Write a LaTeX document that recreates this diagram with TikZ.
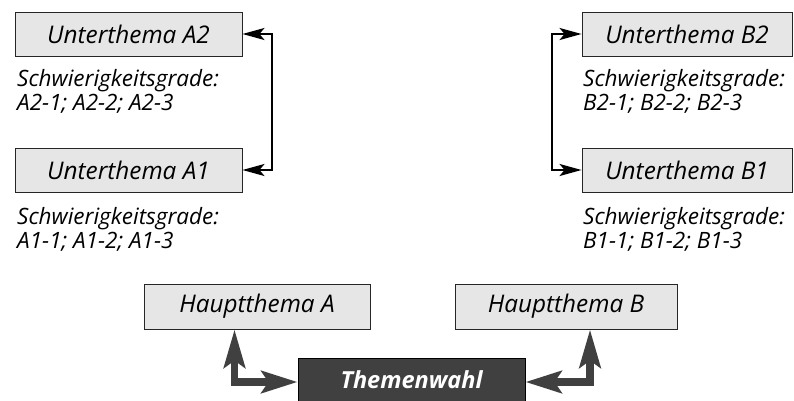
\documentclass[tikz,border=0pt]{standalone}
\usepackage{fontspec}
\setmainfont{Open Sans}
\usetikzlibrary{arrows.meta}
\definecolor{boxfill}{HTML}{E6E6E6}
\definecolor{darkbox}{HTML}{404040}
\tikzset{
  topic/.style={draw=black!85, line width=0.9pt, fill=boxfill, minimum height=44pt,
    inner sep=0pt, font=\fontsize{24.3}{28}\selectfont\itshape, text=black},
  levels/.style={anchor=north west, align=left, inner sep=0pt,
    font=\fontsize{22.5}{24}\selectfont\itshape},
  thinlink/.style={line width=2.2pt,
    {Stealth[length=22pt,width=12pt,inset=5pt]}-{Stealth[length=22pt,width=12pt,inset=5pt]}},
  thicklink/.style={draw=darkbox, line width=7.5pt,
    {Stealth[length=38pt,width=21pt,inset=7pt]}-{Stealth[length=36pt,width=22pt,inset=7pt]}}
}
\begin{document}
\begin{tikzpicture}[x=1pt,y=-1pt]
\useasboundingbox (0,0) rectangle (794,401);

% sub-topics, branch A
\node[topic, minimum width=227pt] (a2) at (128.5,34) {Unterthema A2};
\node[levels] (la2) at (17,69) {Schwierigkeitsgrade:\\A2-1; A2-2; A2-3};
\node[topic, minimum width=227pt] (a1) at (128.5,170) {Unterthema A1};
\node[levels] (la1) at (17,207) {Schwierigkeitsgrade:\\A1-1; A1-2; A1-3};

% sub-topics, branch B
\node[topic, minimum width=210pt] (b2) at (687,34) {Unterthema B2};
\node[levels] (lb2) at (583,69) {Schwierigkeitsgrade:\\B2-1; B2-2; B2-3};
\node[topic, minimum width=210pt] (b1) at (687,170) {Unterthema B1};
\node[levels] (lb1) at (583,207) {Schwierigkeitsgrade:\\B1-1; B1-2; B1-3};

% main topics and the choice
\node[topic, minimum width=226pt, minimum height=45pt] (ha) at (257,306.5) {Hauptthema A};
\node[topic, minimum width=222pt, minimum height=45pt] (hb) at (566,306.5) {Hauptthema B};
\node[draw=black, line width=0.9pt, fill=darkbox, minimum width=227pt, minimum height=44pt,
  inner sep=0pt, text=white, font=\fontsize{23.5}{28}\selectfont\bfseries\itshape]
  (tw) at (411.5,380) {Themenwahl};

% links between the sub-topics
\coordinate (ka) at (272,0);
\coordinate (kb) at (552,0);
\draw[thinlink] (a2.east) -- (ka |- a2.east) |- (a1.east);
\draw[thinlink] (b2.west) -- (kb |- b2.west) |- (b1.west);

% links from the choice to the main topics
\coordinate (la) at (234.5,382);
\coordinate (lb) at (590,382);
\draw[thicklink] (ha.south -| la) -- (la) -- (tw.west |- la);
\draw[thicklink] (hb.south -| lb) -- (lb) -- (tw.east |- lb);
\end{tikzpicture}
\end{document}
